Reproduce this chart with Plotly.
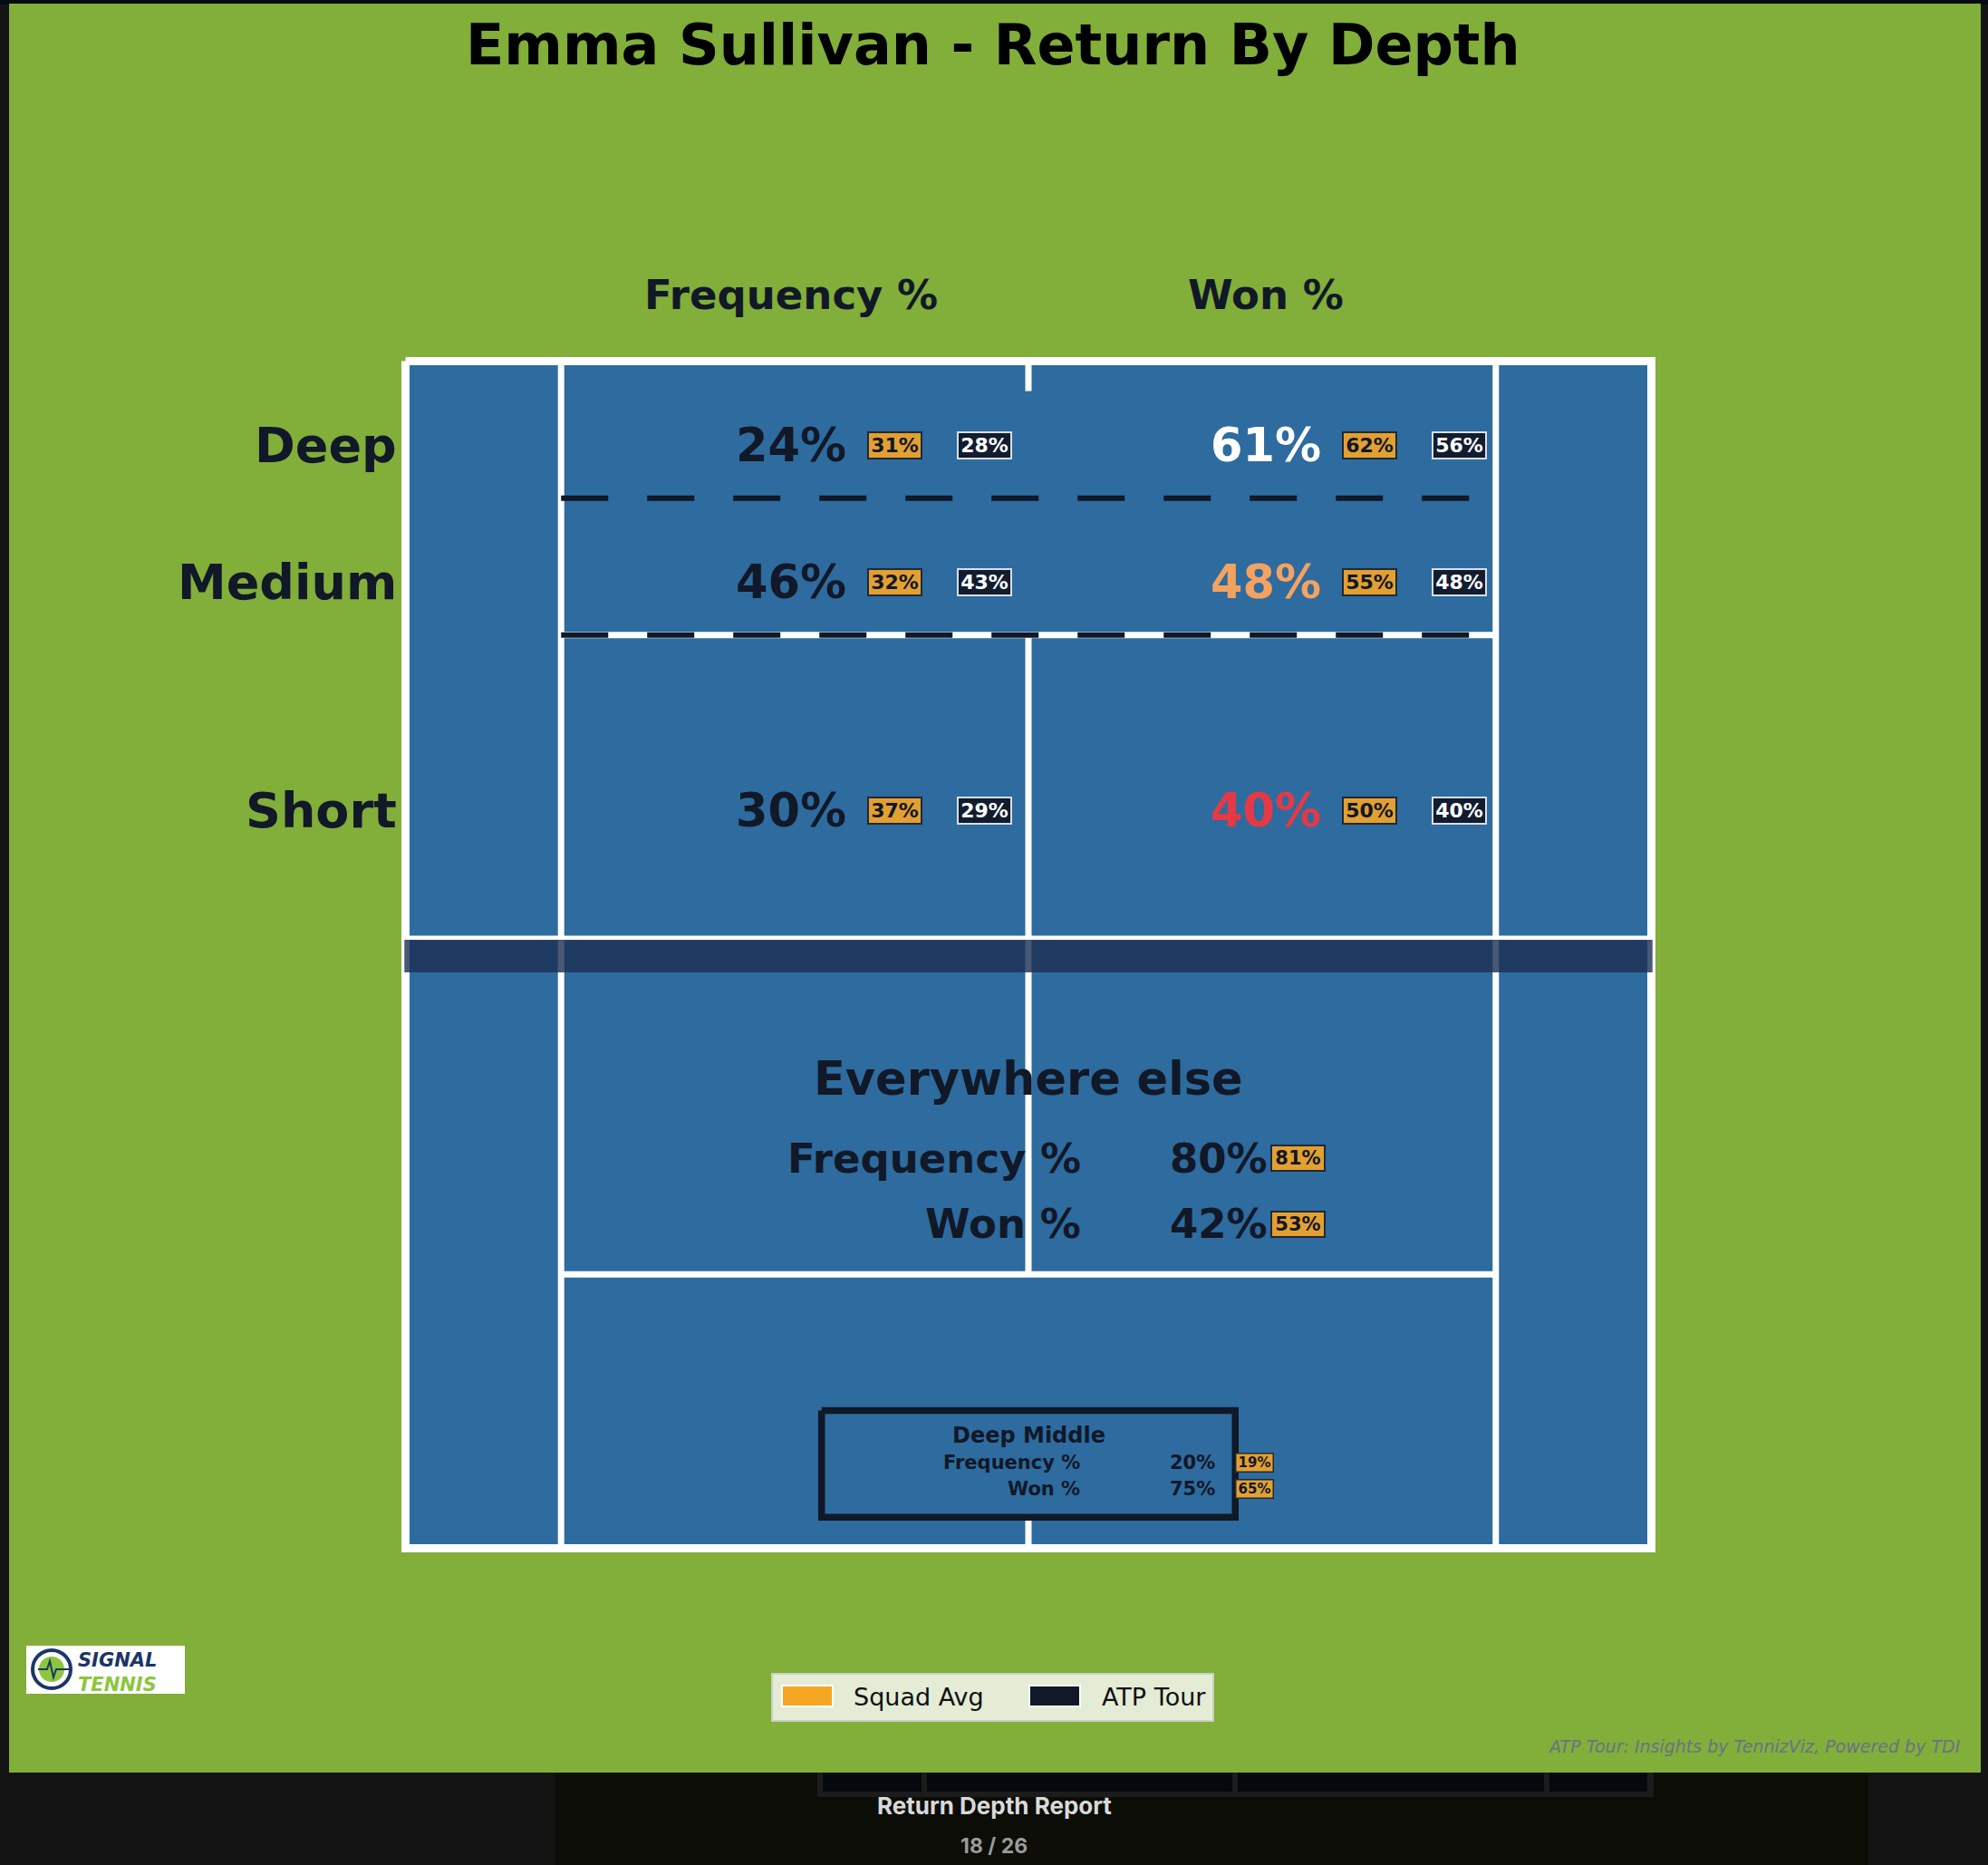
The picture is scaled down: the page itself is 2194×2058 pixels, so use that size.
import plotly.graph_objects as go

# ---------------- data ----------------
ZONES = ["Deep", "Medium", "Short"]
FREQ = [24, 46, 30]
FREQ_SQUAD = [31, 32, 37]
FREQ_ATP = [28, 43, 29]
WON = [61, 48, 40]
WON_SQUAD = [62, 55, 50]
WON_ATP = [56, 48, 40]
COLUMN_HEADERS = ["Frequency %", "Won %"]
ELSE_LABELS = ["Frequency %", "Won %"]
ELSE_VALUES = [80, 42]
ELSE_SQUAD = [81, 53]
DM_LABELS = ["Frequency %", "Won %"]
DM_VALUES = [20, 75]
DM_SQUAD = [19, 65]
LEGEND_LABELS = ["Squad Avg", "ATP Tour"]

TITLE = "Emma Sullivan - Return By Depth"
CREDIT = "ATP Tour: Insights by TennizViz, Powered by TDI"

# ---------------- court geometry (metres) ----------------
HALF_LEN = 11.885
DOUBLES_HALF = 5.485
SINGLES_HALF = 4.115
SERVICE = 6.40
DEEP_LINE = (HALF_LEN + SERVICE) / 2
CENTER_MARK = 0.6
NET_TOP, NET_BOTTOM = 0.30, -0.355

# figure / scale
W, H = 2194, 2058
CX, CY = 1135.0, 1053.5     # pixel position of court centre
SX, SY = 125.34, 55.11       # pixels per metre

def px(x):
    return x / W

def py(y):
    return 1 - y / H

# colours
GREEN = "#82ae3a"
COURT = "#2e6b9f"
DARK = "#111827"
SQUAD_BG = "#e3a030"
ATP_BG = "#121c2f"
WHITE = "#ffffff"

fig = go.Figure()

# ---------- court lines as traces ----------
def seg_trace(segs, width, color, dash=None):
    xs, ys = [], []
    for (x0, y0, x1, y1) in segs:
        xs += [x0, x1, None]
        ys += [y0, y1, None]
    fig.add_trace(go.Scatter(x=xs, y=ys, mode="lines", hoverinfo="skip", showlegend=False,
                             line=dict(color=color, width=width, dash=dash)))

white_segs = [
    (-SINGLES_HALF, -HALF_LEN, -SINGLES_HALF, HALF_LEN),
    (SINGLES_HALF, -HALF_LEN, SINGLES_HALF, HALF_LEN),
    (-SINGLES_HALF, SERVICE, SINGLES_HALF, SERVICE),
    (-SINGLES_HALF, -SERVICE, SINGLES_HALF, -SERVICE),
    (0, -SERVICE, 0, SERVICE),
    (0, HALF_LEN, 0, HALF_LEN - CENTER_MARK),
    (0, -HALF_LEN, 0, -HALF_LEN + CENTER_MARK),
]
seg_trace(white_segs, 7, WHITE)
seg_trace([(-DOUBLES_HALF, NET_TOP + 0.036, DOUBLES_HALF, NET_TOP + 0.036)], 5, WHITE)

# outer boundary
fig.add_trace(go.Scatter(
    x=[-DOUBLES_HALF, DOUBLES_HALF, DOUBLES_HALF, -DOUBLES_HALF, -DOUBLES_HALF],
    y=[HALF_LEN, HALF_LEN, -HALF_LEN, -HALF_LEN, HALF_LEN],
    mode="lines", hoverinfo="skip", showlegend=False,
    line=dict(color=WHITE, width=9)))

# net band
fig.add_trace(go.Scatter(
    x=[-DOUBLES_HALF - 0.01, DOUBLES_HALF + 0.01, DOUBLES_HALF + 0.01, -DOUBLES_HALF - 0.01, -DOUBLES_HALF - 0.01],
    y=[NET_TOP, NET_TOP, NET_BOTTOM, NET_BOTTOM, NET_TOP],
    mode="lines", fill="toself", fillcolor="rgba(27,48,82,0.8)",
    line=dict(width=0, color="rgba(0,0,0,0)"), hoverinfo="skip", showlegend=False))

# depth dashed lines
seg_trace([(-SINGLES_HALF, DEEP_LINE, SINGLES_HALF, DEEP_LINE)], 6, DARK, dash="52px,43px")
seg_trace([(-SINGLES_HALF, SERVICE, SINGLES_HALF, SERVICE)], 6, DARK, dash="52px,43px")

# Deep middle box
DM_X = 1.821
DM_Y0, DM_Y1 = -9.128, -11.262
fig.add_trace(go.Scatter(
    x=[-DM_X, DM_X, DM_X, -DM_X, -DM_X], y=[DM_Y0, DM_Y0, DM_Y1, DM_Y1, DM_Y0],
    mode="lines", hoverinfo="skip", showlegend=False, line=dict(color=DARK, width=7.5)))

# ---------- background shapes ----------
shapes = [
    dict(type="rect", xref="paper", yref="paper", x0=0, x1=1, y0=py(5), y1=1,
         fillcolor="#060b14", line=dict(width=0), layer="below"),
    dict(type="rect", xref="paper", yref="paper", x0=px(613), x1=px(2062), y0=0, y1=py(1956),
         fillcolor="#0b0d06", line=dict(width=0), layer="below"),
    dict(type="rect", xref="paper", yref="paper", x0=px(902), x1=px(1825), y0=py(1983), y1=py(1956),
         fillcolor="#1c1c1c", line=dict(width=0), layer="below"),
]
for a, b in [(908, 1017), (1023, 1360), (1366, 1704), (1710, 1818)]:
    shapes.append(dict(type="rect", xref="paper", yref="paper", x0=px(a), x1=px(b), y0=py(1977), y1=py(1956),
                       fillcolor="#05080d", line=dict(width=0), layer="below"))
shapes += [
    dict(type="rect", xref="paper", yref="paper", x0=px(10), x1=px(2186), y0=py(1956), y1=py(4),
         fillcolor=GREEN, line=dict(width=0), layer="below"),
    dict(type="rect", xref="x", yref="y", x0=-DOUBLES_HALF, x1=DOUBLES_HALF, y0=-HALF_LEN, y1=HALF_LEN,
         fillcolor=COURT, line=dict(width=0), layer="below"),
    # legend box
    dict(type="rect", xref="paper", yref="paper", x0=px(852), x1=px(1339), y0=py(1899), y1=py(1847),
         fillcolor="#e4ecd6", line=dict(color="#c9d2bf", width=2), layer="above"),
    dict(type="rect", xref="paper", yref="paper", x0=px(863), x1=px(919), y0=py(1883), y1=py(1860),
         fillcolor="#f5a623", line=dict(color="#ffffff", width=2), layer="above"),
    dict(type="rect", xref="paper", yref="paper", x0=px(1136), x1=px(1192), y0=py(1883), y1=py(1860),
         fillcolor=DARK, line=dict(color="#ffffff", width=2), layer="above"),
    # logo
    dict(type="rect", xref="paper", yref="paper", x0=px(29), x1=px(204), y0=py(1869), y1=py(1816),
         fillcolor="#ffffff", line=dict(width=0), layer="above"),
    dict(type="circle", xref="paper", yref="paper", x0=px(36), x1=px(78), y0=py(1863), y1=py(1821),
         fillcolor="#ffffff", line=dict(color="#1b3668", width=4), layer="above"),
    dict(type="circle", xref="paper", yref="paper", x0=px(43), x1=px(71), y0=py(1856), y1=py(1828),
         fillcolor="#8cc63f", line=dict(width=0), layer="above"),
    dict(type="path", xref="paper", yref="paper",
         path=f"M {px(42)} {py(1842)} L {px(52)} {py(1842)} L {px(55)} {py(1833)} L {px(59)} {py(1851)} "
              f"L {px(62)} {py(1842)} L {px(76)} {py(1842)}",
         line=dict(color="#1b3668", width=2), layer="above"),
]

# ---------- annotations ----------
ann = []
BOLD = dict(family="DejaVu Sans", weight="bold")

def text(x, y, s, size, color=DARK, xanchor="center", xref="x", yref="y", **kw):
    f = dict(BOLD, size=size, color=color)
    f.update(kw.pop("font", {}))
    ann.append(dict(x=x, y=y, xref=xref, yref=yref, text=s, showarrow=False,
                    xanchor=xanchor, yanchor="middle", font=f, **kw))

def badge(x, y, value, kind, size=22, w=55, h=25, bw=2, xanchor="center"):
    if kind == "squad":
        bg, border, col = SQUAD_BG, "#1f2937", DARK
    else:
        bg, border, col = ATP_BG, "#d9dee5", WHITE
    ann.append(dict(x=x, y=y, xref="x", yref="y", text=f"{value}%", showarrow=False,
                    xanchor=xanchor, yanchor="middle", width=w, height=h, align="center", valign="middle",
                    bgcolor=bg, bordercolor=border, borderwidth=bw, borderpad=1,
                    font=dict(BOLD, size=size, color=col)))

def won_color(v, squad):
    d = v - squad
    if d >= -3:
        return WHITE
    if d > -10:
        return "#f4a261"
    return "#e63946"

COL_X = [-2.09, 2.09]
BADGE_DX = [0.917, 1.707]
zone_bounds = [(DEEP_LINE, HALF_LEN), (SERVICE, DEEP_LINE), (0, SERVICE)]

# headers
for cx, hdr in zip(COL_X, COLUMN_HEADERS):
    text(cx, HALF_LEN + 1.32, hdr, 45)

for i, zone in enumerate(ZONES):
    lo, hi = zone_bounds[i]
    yc = (lo + hi) / 2 - 0.32
    text(-DOUBLES_HALF - 0.06, yc, zone, 54, xanchor="right")
    # frequency column
    text(COL_X[0], yc, f"{FREQ[i]}%", 51)
    badge(COL_X[0] + BADGE_DX[0], yc, FREQ_SQUAD[i], "squad")
    badge(COL_X[0] + BADGE_DX[1], yc, FREQ_ATP[i], "atp")
    # won column
    text(COL_X[1], yc, f"{WON[i]}%", 51, color=won_color(WON[i], WON_SQUAD[i]))
    badge(COL_X[1] + BADGE_DX[0], yc, WON_SQUAD[i], "squad")
    badge(COL_X[1] + BADGE_DX[1], yc, WON_ATP[i], "atp")

# everywhere else
text(0, -2.48, "Everywhere else", 51)
for j, (lab, val, sq) in enumerate(zip(ELSE_LABELS, ELSE_VALUES, ELSE_SQUAD)):
    yy = -4.08 - 1.31 * j
    text(0.48, yy, lab, 45, xanchor="right")
    text(2.12, yy, f"{val}%", 45, xanchor="right")
    badge(2.375, yy, sq, "squad", size=21, w=55, h=24)

# deep middle
text(0, -9.63, "Deep Middle", 24)
for j, (lab, val, sq) in enumerate(zip(DM_LABELS, DM_VALUES, DM_SQUAD)):
    yy = -10.17 - 0.53 * j
    text(0.47, yy, lab, 21, xanchor="right")
    text(1.66, yy, f"{val}%", 21, xanchor="right")
    badge(1.99, yy, sq, "squad", size=15, w=38, h=17, bw=1.5)

# title
text(px(1096), py(49), TITLE, 62, color="#000000", xref="paper", yref="paper")

# legend labels
text(px(940), py(1872), LEGEND_LABELS[0], 27, color="#111111", xanchor="left", xref="paper", yref="paper",
     font=dict(weight="normal"))
text(px(1214), py(1872), LEGEND_LABELS[1], 27, color="#111111", xanchor="left", xref="paper", yref="paper",
     font=dict(weight="normal"))

# logo text (single block, two lines)
text(px(84), py(1845),
     "<span style='color:#1b3668'>SIGNAL</span><br><span style='color:#8cc63f'>TENNIS</span>",
     21, color="#1b3668", xanchor="left", xref="paper", yref="paper",
     font=dict(style="italic"), align="left")

# credit
text(px(2166), py(1927), CREDIT, 19, color="#6a7284", xanchor="right", xref="paper", yref="paper",
     font=dict(weight="normal", style="italic"))

# page chrome below the figure
text(px(1097), py(1992), "Return Depth Report", 26, color="#d9d9d9", xref="paper", yref="paper",
     font=dict(family="Inter"))
text(px(1097), py(2037), "18 / 26", 23, color="#9b9b9b", xref="paper", yref="paper",
     font=dict(family="Inter"))

fig.update_layout(
    width=W, height=H,
    margin=dict(l=0, r=0, t=0, b=0, pad=0),
    paper_bgcolor="#141414",
    plot_bgcolor="rgba(0,0,0,0)",
    shapes=shapes,
    annotations=ann,
    showlegend=False,
    xaxis=dict(range=[-CX / SX, (W - CX) / SX], visible=False, showgrid=False, zeroline=False, fixedrange=True),
    yaxis=dict(range=[(CY - H) / SY, CY / SY], visible=False, showgrid=False, zeroline=False, fixedrange=True),
)

fig.write_html("out.html", config={"displayModeBar": False},
               post_script="document.body.style.margin='0';document.body.style.overflow='hidden';")
